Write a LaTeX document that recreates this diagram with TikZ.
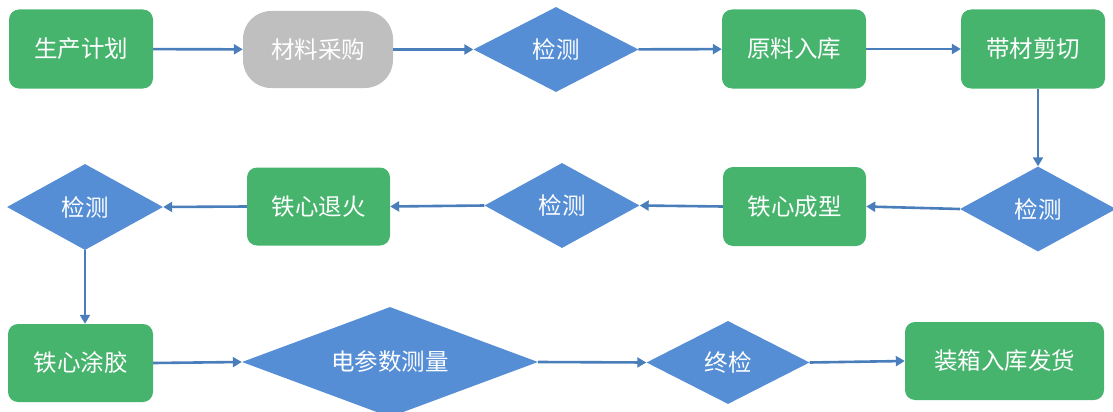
\documentclass[tikz,border=0pt]{standalone}
\usepackage{fontspec}
\newfontfamily\cjk{Noto Sans CJK SC}
\usetikzlibrary{shapes.geometric,arrows.meta}
\definecolor{boxgreen}{RGB}{71,180,110}
\definecolor{diablue}{RGB}{85,142,213}
\definecolor{arrblue}{RGB}{74,126,187}
\definecolor{boxgray}{RGB}{191,191,191}
\tikzset{
  every node/.style={font=\cjk\fontsize{23.5pt}{26pt}\selectfont, text=white, inner sep=0pt},
  gbox/.style={rectangle, rounded corners=10pt, fill=boxgreen, minimum width=144pt, minimum height=79pt},
  graybox/.style={rectangle, rounded corners=28pt, fill=boxgray, minimum width=150pt, minimum height=77pt},
  dia/.style={diamond, fill=diablue, shape aspect=2.5},
  conn/.style={draw=arrblue, line width=2.6pt, -{Triangle[width=10pt,length=9pt]}}
}
\begin{document}
\begin{tikzpicture}[x=1pt,y=-1pt]
\useasboundingbox (0,0) rectangle (1113,412);
% row 1
\node[gbox] (n1) at (81,49) {生产计划};
\node[graybox] (n2) at (318,49.5) {材料采购};
\node[dia, minimum width=165pt, minimum height=85pt] (d1) at (556,49.5) {检测};
\node[gbox] (n3) at (794,49) {原料入库};
\node[gbox] (n4) at (1033,49) {带材剪切};
% row 2
\node[dia, minimum width=156pt, minimum height=85pt] (d2) at (1038,209) {检测};
\node[gbox, minimum width=143pt] (n5) at (794.5,206.5) {铁心成型};
\node[dia, minimum width=155pt, minimum height=85pt] (d3) at (562,205.5) {检测};
\node[gbox, minimum width=143pt, minimum height=78pt] (n6) at (318.5,206.5) {铁心退火};
\node[dia, minimum width=156pt, minimum height=86pt] (d4) at (85,207) {检测};
% row 3
\node[gbox, minimum width=145pt, minimum height=78pt] (n7) at (80.5,363) {铁心涂胶};
\node[dia, minimum width=296pt, minimum height=110pt] (d5) at (390,362) {电参数测量};
\node[dia, minimum width=163pt, minimum height=83pt] (d6) at (728,362.5) {终检};
\node[gbox, minimum width=199pt, minimum height=78pt] (n8) at (1004.5,361) {装箱入库发货};
% connectors
\draw[conn] (n1) -- (n2);
\draw[conn] (n2) -- (d1);
\draw[conn] (d1) -- (n3);
\draw[conn] (n3) -- (n4);
\draw[conn] (d2.north |- n4.south) -- (d2.north);
\draw[conn] (d2.west) -- (n5.east);
\draw[conn] (n5.west) -- (d3.east);
\draw[conn] (d3.west) -- (n6.east);
\draw[conn] (n6.west) -- (d4.east);
\draw[conn] (d4.south) -- (d4.south |- n7.north);
\draw[conn] (n7.east) -- (d5.west);
\draw[conn] (d5.east) -- (d6.west);
\draw[conn] (d6.east) -- (n8.west);
\end{tikzpicture}
\end{document}
